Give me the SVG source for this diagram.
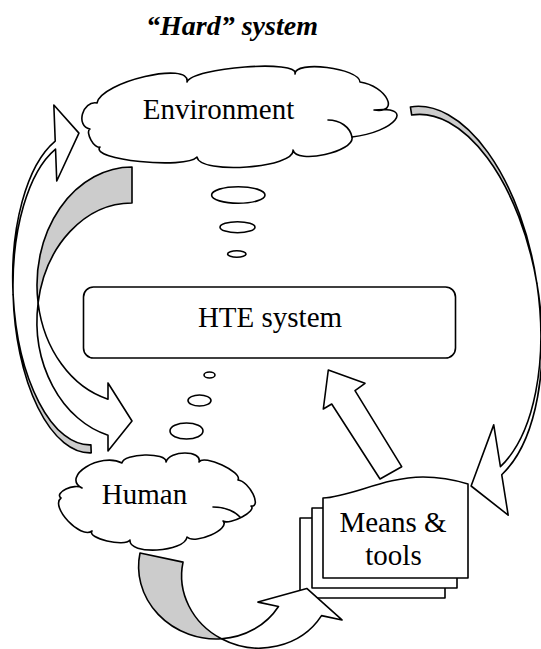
<svg xmlns="http://www.w3.org/2000/svg" width="541" height="649" viewBox="0 0 541 649">
<style>
.s{stroke:#000;stroke-width:1.6;stroke-linejoin:round;fill:#fff}
.g{fill:#cccccc}
.ln{fill:none;stroke:#000;stroke-width:1.6;stroke-linecap:round}
.t{font-family:"Liberation Serif","Times New Roman",serif;font-size:29px;fill:#000;text-anchor:middle}
.title{font-family:"Liberation Serif","Times New Roman",serif;font-size:28px;font-weight:bold;font-style:italic;fill:#000;text-anchor:middle}
</style>
<rect width="541" height="649" fill="#fff"/>
<text class="title" x="232" y="35">“Hard” system</text>

<g id="environment">
 <path class="s" d="M97,103 C101,81.7 191,60.7 187,82 C192.3,67.3 300.3,59.3 295,74 C294.3,60 359.3,68 360,82 C386.7,86 400.7,114 374,110 C416.7,105.3 394.7,132.3 352,137 C355.3,151.7 296.3,164.7 293,150 C295.7,168 199.7,175 197,157 C185.7,169.7 88.7,159.7 100,147 C94.7,149.7 84.7,131.7 90,129 C75.3,126.3 82.3,100.3 97,103 Z"/>
 <path class="ln" d="M328,120 C340,120 350,127 352,137"/>
 <text class="t" x="218.5" y="119">Environment</text>
</g>

<g id="bubbles">
 <ellipse class="s" cx="238.3" cy="195" rx="26.7" ry="8.3"/>
 <ellipse class="s" cx="237.5" cy="227.2" rx="17.5" ry="5.5"/>
 <ellipse class="s" cx="236.8" cy="254" rx="9.2" ry="3.3"/>
 <ellipse class="s" cx="209.5" cy="375" rx="5.5" ry="3"/>
 <ellipse class="s" cx="199.5" cy="400.5" rx="11.5" ry="5.5"/>
 <ellipse class="s" cx="186.5" cy="431" rx="16.5" ry="8"/>
</g>

<g id="hte">
 <rect class="s" x="83.5" y="287" width="372" height="71" rx="10"/>
 <text class="t" x="270" y="327">HTE system</text>
</g>

<g id="human">
 <path class="s" d="M82,488 C60.7,476.7 100.7,451.7 122,463 C123.3,453 167.3,452 166,462 C169.3,450 202.3,450 199,462 C203.7,454 242.7,472 238,480 C249.3,481.3 262.3,507.3 251,506 C257.7,510.7 229.7,525.7 223,521 C231,529 195,545 187,537 C185,552.3 128,555.3 130,540 C124.7,547.3 86.7,538.3 92,531 C80.7,539.7 49.7,506.7 61,498 C53.7,492.7 74.7,482.7 82,488 Z"/>
 <path class="ln" d="M213,507 C224,507 234,511 240,517"/>
 <text class="t" x="144.5" y="504">Human</text>
</g>

<g id="means-tools">
 <rect class="s" x="300" y="518" width="145" height="80"/>
 <rect class="s" x="312" y="508" width="145" height="80"/>
 <path class="s" d="M323,498 C350,497 385,477 423,477 C440,477 455,480 468,484 L468,578 L323,578 Z"/>
 <text class="t" x="393" y="532">Means &amp;</text>
 <text class="t" x="393.5" y="565">tools</text>
</g>

<g id="connectors">
 <g id="arrow-env-human">
  <path class="s g" d="M132,167 A95,118 0 0 0 38.1,303 A95,118 0 0 1 132,203 Z"/>
  <path class="s" d="M38.1,303 A95,118 0 0 0 108,435.2 L108,451 L132,421 L108,383 L108,399.2 A95,118 0 0 1 38.1,303 Z"/>
 </g>
 <g id="arrow-human-env" transform="rotate(-2.2 85 291)">
  <path class="s g" d="M85,453 A72,157 0 0 1 13.02,292 A72,157 0 0 0 85,445 Z"/>
  <path class="s" d="M13.02,292 A72,157 0 0 1 61,140 L61,104 L85,133 L61,180 L61,148 A72,157 0 0 0 13.02,292 Z"/>
 </g>
 <g id="arrow-env-means" transform="rotate(-9.1 441 298)">
  <path class="s g" d="M441,104.5 A97,190 0 0 1 537.98,298.6 A97,190 0 0 0 441,112.7 Z"/>
  <path class="s" d="M537.98,298.6 A97,190 0 0 1 473,482.1 L473,523 L441,488.4 L473,431.6 L473,473.9 A97,190 0 0 0 537.98,298.6 Z"/>
 </g>
 <g id="arrow-human-means" transform="translate(140,553) rotate(12)">
  <path class="s g" d="M0,0 A75.5,70 0 0 0 97.5,66.96 A75.5,70 0 0 1 44,0 Z"/>
  <path class="s" d="M97.5,66.96 A75.5,70 0 0 0 190.6,23.5 L211.5,23.5 L170.5,0 L125.6,23.5 L146.6,23.5 A75.5,70 0 0 1 97.5,66.96 Z"/>
 </g>
 <path id="arrow-means-hte" class="s" d="M328.3,370 L365,383.3 L355,390.7 L401.7,466.7 L380,479 L331.7,404 L323.3,409 Z"/>
</g>
</svg>
